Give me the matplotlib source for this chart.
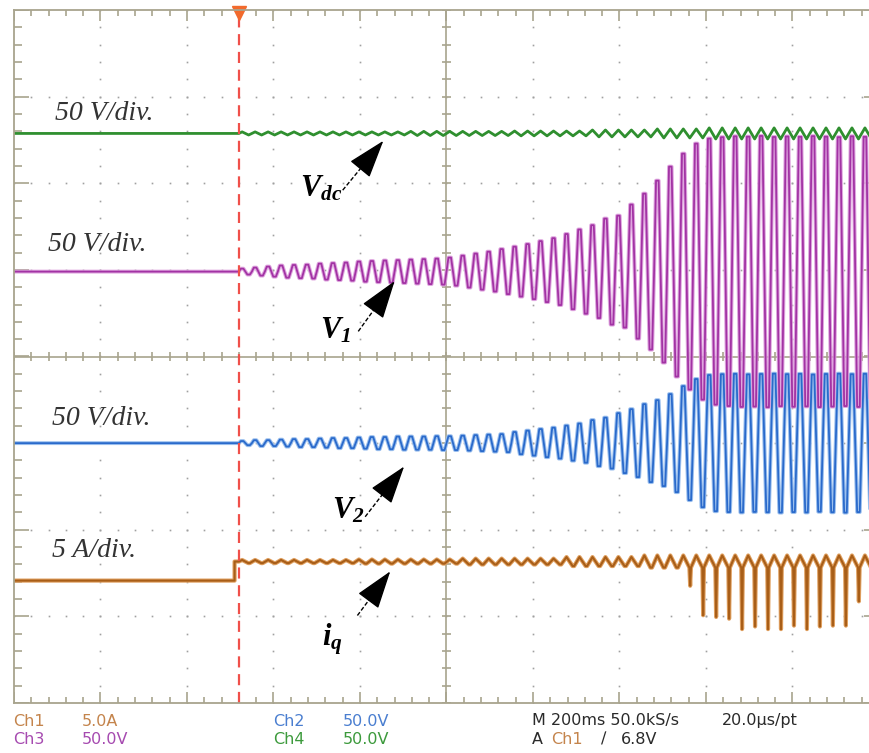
import numpy as np
import matplotlib.pyplot as plt

# scope settings
ms_per_div = 200.0
volts_per_div = 50.0
amps_per_div = 5.0
screen_left_ms = -520.0      # trigger sits 2.6 div from the left edge
period_ms = 30.0             # oscillation period after the trigger
iq_step_ms = -10.0
iq_step_a = 1.1

# half amplitude per oscillation cycle after the trigger
v1_amp = [1.7, 2.3, 2.9, 3.5, 3.8, 4.0, 4.6, 4.9, 5.2, 5.8,
          6.1, 6.4, 6.6, 6.9, 7.2, 7.5, 8.1, 9.2, 10.4, 11.5,
          13.0, 14.4, 15.9, 17.6, 19.3, 21.7, 24.3, 26.8, 30.6, 32.3,
          38.7, 45.0, 52.5, 60.6, 68.1, 73.9, 76.8, 77.6, 78.1, 77.9,
          78.3, 77.7, 78.0, 77.8, 78.2, 77.9, 77.6, 78.1, 77.8, 78.0]
v2_amp = [1.2, 1.7, 1.7, 2.0, 2.3, 2.3, 2.6, 2.9, 2.9, 3.2,
          3.5, 3.5, 3.8, 3.8, 3.8, 4.0, 4.0, 4.3, 4.6, 4.9,
          5.2, 6.4, 7.2, 8.1, 8.9, 10.1, 11.3, 13.3, 14.7, 17.3,
          19.6, 22.5, 24.8, 28.3, 32.9, 37.0, 39.3, 39.8, 40.0, 39.7,
          39.9, 40.1, 39.8, 40.0, 39.6, 39.9, 40.1, 39.8, 40.0, 39.9]
vdc_amp = [0.9, 0.9, 0.9, 0.9, 0.9, 0.9, 0.9, 0.9, 0.9, 0.9,
           0.9, 0.9, 0.9, 1.2, 1.2, 1.2, 1.2, 1.2, 1.2, 1.2,
           1.2, 1.4, 1.4, 1.4, 1.4, 1.4, 1.4, 2.0, 2.0, 2.0,
           2.0, 2.0, 2.6, 2.6, 2.6, 2.6, 3.2, 3.2, 3.2, 3.2,
           3.2, 3.2, 3.2, 3.2, 3.2, 3.2, 3.2, 3.2, 3.2, 3.2]
iq_ripple = [0.09, 0.09, 0.09, 0.09, 0.09, 0.09, 0.09, 0.09, 0.09, 0.12,
             0.12, 0.12, 0.12, 0.12, 0.12, 0.12, 0.12, 0.17, 0.17, 0.17,
             0.17, 0.17, 0.17, 0.17, 0.17, 0.26, 0.26, 0.26, 0.26, 0.26,
             0.26, 0.35, 0.35, 0.35, 0.35, 0.35, 0.35, 0.35, 0.35, 0.35,
             0.35, 0.35, 0.35, 0.35, 0.35, 0.35, 0.35, 0.35, 0.35, 0.35]
iq_spike = [0.0, 0.0, 0.0, 0.0, 0.0, 0.0, 0.0, 0.0, 0.0, 0.0,
            0.0, 0.0, 0.0, 0.0, 0.0, 0.0, 0.0, 0.0, 0.0, 0.0,
            0.0, 0.0, 0.0, 0.0, 0.0, 0.0, 0.0, 0.0, 0.0, 0.0,
            0.0, 0.0, 0.0, 0.0, 1.4, 3.1, 3.2, 3.3, 3.9, 3.75,
            3.9, 3.9, 3.7, 3.9, 3.75, 3.7, 3.7, 2.3, 3.5, 3.6]

# channel reference positions (div)
pos_vdc, pos_v1, pos_v2, pos_iq = 2.575, 0.98, -1.0, -2.367


def to_div(t):
    return (np.asarray(t) - screen_left_ms) / ms_per_div


def trapez(amp):
    t, y = [screen_left_ms, 0.0], [0.0, 0.0]
    for k, a in enumerate(amp):
        t0 = k * period_ms
        for f, s in [(0.0, 0), (0.15, 1), (0.35, 1), (0.65, -1), (0.85, -1)]:
            t.append(t0 + f * period_ms)
            y.append(s * a)
    return to_div(t), np.array(y)


def ripple(amp):
    t, y = [screen_left_ms, 0.0], [0.0, 0.0]
    for k, a in enumerate(amp):
        t0 = k * period_ms
        t += [t0 + 0.25 * period_ms, t0 + 0.75 * period_ms]
        y += [a, -a]
    return to_div(t), np.array(y)


fig = plt.figure(figsize=(8.7, 7.53), dpi=100)
ax = fig.add_axes([14 / 870, 50 / 753, 865 / 870, 693 / 753])
ax.set_xlim(0, 10)
ax.set_ylim(-4, 4)
ax.set_xticks([])
ax.set_yticks([])
frame_col = '#a8a48e'
for sp in ax.spines.values():
    sp.set_color(frame_col)
    sp.set_linewidth(1.3)

# graticule
dot_col = '#a0a0a0'
ys = np.arange(-4, 4.001, 0.2)
xs = np.arange(0, 10.001, 0.2)
for i in [1, 2, 3, 4, 6, 7, 8, 9]:
    ax.plot(np.full(len(ys), i), ys, ls='none', marker='s', ms=1.2, color=dot_col, mew=0)
for j in [-3, -2, -1, 1, 2, 3]:
    ax.plot(xs, np.full(len(xs), j), ls='none', marker='s', ms=1.2, color=dot_col, mew=0)
ax.axhline(0, color=frame_col, lw=1.2)
ax.axvline(5, color=frame_col, lw=1.2)
major_x = np.isclose(xs % 1, 0) | np.isclose(xs % 1, 1)
major_y = np.isclose(ys % 1, 0) | np.isclose(ys % 1, 1)
lx = np.where(major_x, 0.13, 0.07)
ly = np.where(major_y, 0.17, 0.09)
ax.vlines(xs, 4 - lx, 4, color=frame_col, lw=1.2)
ax.vlines(xs, -4, -4 + lx, color=frame_col, lw=1.2)
ax.hlines(ys, 0, ly, color=frame_col, lw=1.2)
ax.hlines(ys, 10 - ly, 10, color=frame_col, lw=1.2)
ax.vlines(xs, -0.05, 0.05, color=frame_col, lw=1.2)
ax.hlines(ys, 4.95, 5.05, color=frame_col, lw=1.2)

# traces
tx, ty = ripple(vdc_amp)
ax.plot(tx, pos_vdc + ty / volts_per_div, color='#2f8f2f', lw=2.0)

tx, ty = trapez(v2_amp)
ax.plot(tx, pos_v2 + ty / volts_per_div, color='#9cc0ee', lw=2.8)
ax.plot(tx, pos_v2 + ty / volts_per_div, color='#2a6acb', lw=1.3)

tx, ty = trapez(v1_amp)
ax.plot(tx, pos_v1 + ty / volts_per_div, color='#dc9cdc', lw=2.8, alpha=0.9)
ax.plot(tx, pos_v1 + ty / volts_per_div, color='#a233a4', lw=1.3)

# iq: step at the trigger, then ripple with sharp negative spikes
it = [screen_left_ms, iq_step_ms, iq_step_ms, 0.0]
iy = [-iq_step_a, -iq_step_a, 0.0, 0.0]
for k, (r, s) in enumerate(zip(iq_ripple, iq_spike)):
    t0 = k * period_ms
    it += [t0 + 0.25 * period_ms, t0 + 0.72 * period_ms, t0 + 0.78 * period_ms, t0 + 0.84 * period_ms]
    iy += [r, -r, -max(r, s), -r]
ax.plot(to_div(it), pos_iq + np.array(iy) / amps_per_div, color='#e0a060', lw=3.0)
ax.plot(to_div(it), pos_iq + np.array(iy) / amps_per_div, color='#a85e18', lw=1.5)

# trigger marker
trig_x = to_div(0.0)
ax.axvline(trig_x, color='#f0504a', lw=1.6, ls=(0, (5, 3)))
ax.plot(trig_x, 3.97, marker='v', ms=10, color='#f26a2c', clip_on=False)

# scale notes
serif = ['Liberation Serif', 'DejaVu Serif']
for x, y, s in [(0.47, 2.81, '50 V/div.'), (0.39, 1.29, '50 V/div.'),
                (0.44, -0.72, '50 V/div.'), (0.44, -2.24, '5 A/div.')]:
    ax.text(x, y, s, family=serif, style='italic', fontsize=20, color='#333333', va='center')

plt.rcParams['mathtext.fontset'] = 'custom'
plt.rcParams['mathtext.it'] = 'Liberation Serif:bold:italic'
plt.rcParams['mathtext.rm'] = 'Liberation Serif:bold:italic'
labels = [(3.31, 1.85, r'$V_{dc}$', (3.80, 1.92), (4.27, 2.49)),
          (3.54, 0.21, r'$V_{1}$', (3.98, 0.29), (4.40, 0.87)),
          (3.68, -1.87, r'$V_{2}$', (4.06, -1.85), (4.51, -1.27)),
          (3.56, -3.34, r'$i_{q}$', (3.97, -2.99), (4.35, -2.48))]
for lx_, ly_, s, tail, head in labels:
    ax.text(lx_, ly_, s, fontsize=22, color='black', va='baseline')
    d = np.array(head) - np.array(tail)
    base = np.array(head) - d / np.hypot(*d) * 0.27
    ax.plot([tail[0], base[0]], [tail[1], base[1]], color='black', lw=1.0, ls=(0, (3, 1.5)))
    ax.annotate('', xy=head, xytext=tuple(base),
                arrowprops=dict(arrowstyle='-|>,head_length=0.9,head_width=0.3',
                                color='black', lw=1.0, shrinkA=0, shrinkB=0, mutation_scale=27))

# scope readout
sans = ['DejaVu Sans']
c_ch1, c_ch2, c_ch3, c_ch4 = '#c4844c', '#4a7ed0', '#a64ab0', '#3c9a3c'
dark = '#2a2a2a'
readout = [(13, 721, 'Ch1', c_ch1), (82, 721, '5.0A', c_ch1),
           (13, 739, 'Ch3', c_ch3), (82, 739, '50.0V', c_ch3),
           (273, 721, 'Ch2', c_ch2), (343, 721, '50.0V', c_ch2),
           (273, 739, 'Ch4', c_ch4), (343, 739, '50.0V', c_ch4),
           (532, 721, 'M 200ms 50.0kS/s', dark), (722, 721, '20.0\u00b5s/pt', dark),
           (532, 739, 'A', dark), (551, 739, 'Ch1', c_ch1),
           (601, 739, '\u2215', dark), (621, 739, '6.8V', dark)]
for x, y, s, c in readout:
    fig.text(x / 870, 1 - y / 753, s, family=sans, fontsize=11.5, color=c, va='center')

fig.savefig('out.png', dpi=100)
